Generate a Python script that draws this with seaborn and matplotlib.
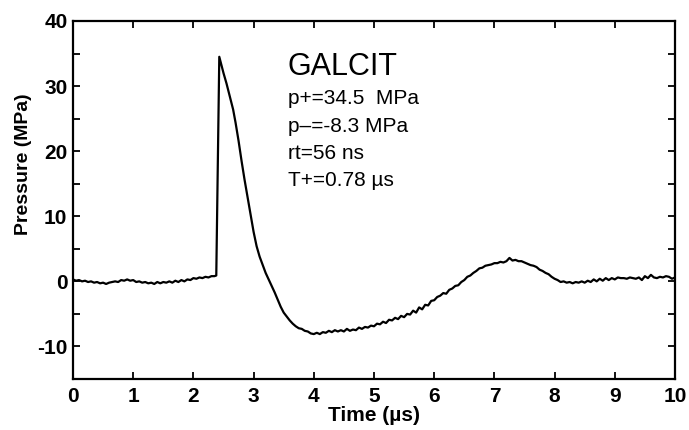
import matplotlib
matplotlib.use("Agg")
import matplotlib.pyplot as plt
import seaborn as sns
import pandas as pd
from matplotlib.ticker import MultipleLocator

# ---- data ----
time_us = [
    0.00, 0.05, 0.10, 0.15, 0.20, 0.25, 0.30, 0.35, 0.40, 0.45,
    0.50, 0.55, 0.60, 0.65, 0.70, 0.75, 0.80, 0.85, 0.90, 0.95,
    1.00, 1.05, 1.10, 1.15, 1.20, 1.25, 1.30, 1.35, 1.40, 1.45,
    1.50, 1.55, 1.60, 1.65, 1.70, 1.75, 1.80, 1.85, 1.90, 1.95,
    2.00, 2.05, 2.10, 2.15, 2.20, 2.25, 2.30, 2.35, 2.38, 2.43,
    2.50, 2.55, 2.60, 2.66, 2.70, 2.75, 2.80, 2.85, 2.90, 2.95,
    3.00, 3.05, 3.10, 3.16, 3.20, 3.25, 3.30, 3.35, 3.40, 3.45,
    3.50, 3.55, 3.60, 3.65, 3.70, 3.75, 3.80, 3.85, 3.90, 3.95,
    4.00, 4.05, 4.10, 4.15, 4.20, 4.25, 4.30, 4.35, 4.40, 4.45,
    4.50, 4.55, 4.60, 4.65, 4.70, 4.75, 4.80, 4.85, 4.90, 4.95,
    5.00, 5.05, 5.10, 5.15, 5.20, 5.25, 5.30, 5.35, 5.40, 5.45,
    5.50, 5.55, 5.60, 5.65, 5.70, 5.75, 5.80, 5.85, 5.90, 5.95,
    6.00, 6.05, 6.10, 6.15, 6.20, 6.25, 6.30, 6.35, 6.40, 6.45,
    6.50, 6.55, 6.60, 6.65, 6.70, 6.75, 6.80, 6.85, 6.90, 6.95,
    7.00, 7.05, 7.10, 7.15, 7.20, 7.25, 7.30, 7.35, 7.40, 7.45,
    7.50, 7.55, 7.60, 7.65, 7.70, 7.75, 7.80, 7.85, 7.90, 7.95,
    8.00, 8.05, 8.10, 8.15, 8.20, 8.25, 8.30, 8.35, 8.40, 8.45,
    8.50, 8.55, 8.60, 8.65, 8.70, 8.75, 8.80, 8.85, 8.90, 8.95,
    9.00, 9.05, 9.10, 9.15, 9.20, 9.25, 9.30, 9.35, 9.40, 9.45,
    9.50, 9.55, 9.60, 9.65, 9.70, 9.75, 9.80, 9.85, 9.90, 9.95,
    10.00,
]
pressure_mpa = [
    0.3, 0.1, 0.2, 0.0, 0.1, -0.1, 0.0, -0.2, -0.1, -0.3,
    -0.2, -0.4, -0.2, -0.1, 0.0, -0.1, 0.2, 0.1, 0.3, 0.1,
    0.2, -0.1, 0.0, -0.2, -0.1, -0.3, -0.2, -0.4, -0.1, -0.3,
    -0.1, -0.2, 0.0, -0.2, 0.1, -0.1, 0.2, 0.0, 0.3, 0.2,
    0.5, 0.4, 0.6, 0.5, 0.7, 0.6, 0.8, 0.8, 0.9, 34.5,
    32.0, 30.4, 28.6, 26.4, 24.4, 21.6, 18.5, 15.6, 12.9, 10.3,
    7.6, 5.4, 3.8, 2.3, 1.3, 0.3, -0.7, -1.7, -2.8, -3.9,
    -4.8, -5.4, -6.0, -6.5, -6.9, -7.2, -7.3, -7.6, -7.7, -8.0,
    -8.1, -7.9, -8.1, -7.8, -7.9, -7.6, -7.8, -7.5, -7.7, -7.5,
    -7.7, -7.3, -7.6, -7.4, -7.5, -7.1, -7.3, -7.0, -7.1, -6.8,
    -6.9, -6.5, -6.6, -6.2, -6.4, -5.9, -6.0, -5.6, -5.8, -5.3,
    -5.5, -5.0, -5.1, -4.5, -4.8, -4.0, -4.3, -3.6, -3.7, -3.0,
    -2.9, -2.4, -2.2, -1.8, -1.9, -1.3, -1.1, -0.7, -0.6, -0.1,
    0.2, 0.7, 0.9, 1.3, 1.6, 2.0, 2.1, 2.4, 2.5, 2.6,
    2.8, 2.8, 3.0, 2.9, 3.1, 3.6, 3.2, 3.3, 3.1, 3.1,
    2.9, 2.7, 2.5, 2.4, 2.2, 1.8, 1.6, 1.3, 1.1, 0.7,
    0.4, 0.2, -0.1, 0.0, -0.2, -0.1, -0.3, -0.1, -0.2, 0.0,
    -0.2, 0.1, -0.1, 0.3, 0.0, 0.4, 0.1, 0.5, 0.2, 0.5,
    0.3, 0.6, 0.5, 0.5, 0.4, 0.6, 0.5, 0.4, 0.6, 0.2,
    0.8, 0.5, 1.0, 0.6, 0.5, 0.7, 0.6, 0.8, 0.7, 0.4,
    0.6,
]
x_ticks = [0, 1, 2, 3, 4, 5, 6, 7, 8, 9, 10]
y_ticks = [-10, 0, 10, 20, 30, 40]
title_text = "GALCIT"
info_lines = ["p+=34.5  MPa", "p–=-8.3 MPa", "rt=56 ns", "T+=0.78 µs"]

df = pd.DataFrame({"t": time_us, "p": pressure_mpa})

sns.set_style("ticks")
plt.rcParams["font.family"] = ["Liberation Sans", "DejaVu Sans"]
plt.rcParams["axes.unicode_minus"] = False
plt.rcParams["text.color"] = "black"
plt.rcParams["axes.labelcolor"] = "black"
plt.rcParams["xtick.color"] = "black"
plt.rcParams["ytick.color"] = "black"

fig = plt.figure(figsize=(6.89, 4.30), dpi=100)
ax = fig.add_axes([73 / 689, 1 - 379 / 430, (675 - 73) / 689, (379 - 21) / 430])

sns.lineplot(data=df, x="t", y="p", ax=ax, color="black", linewidth=1.6,
             sort=False, estimator=None)

ax.set_xlim(0, 10)
ax.set_ylim(-15, 40)
ax.set_xticks(x_ticks)
ax.set_yticks(y_ticks)
ax.yaxis.set_minor_locator(MultipleLocator(5))
ax.tick_params(which="both", direction="in", top=True, right=True,
               width=1.3, color="black", labelcolor="black")
ax.tick_params(which="major", length=5)
ax.tick_params(which="minor", length=5)
ax.tick_params(axis="x", pad=6, labelsize=15)
ax.tick_params(axis="y", pad=4, labelsize=15)
for lbl in ax.get_xticklabels() + ax.get_yticklabels():
    lbl.set_fontweight("bold")
for sp in ax.spines.values():
    sp.set_linewidth(1.6)
    sp.set_color("black")

ax.set_xlabel("Time (µs)", fontsize=15, fontweight="bold", labelpad=0,
              color="black")
ax.set_ylabel("Pressure (MPa)", fontsize=14, fontweight="bold",
              color="black")
ax.yaxis.set_label_coords(-0.068, 0.6)

ax.text(3.57, 31.7, title_text, fontsize=22, va="baseline", ha="left",
        color="black")
for yv, line in zip([27.3, 23.0, 18.8, 14.6], info_lines):
    ax.text(3.57, yv, line, fontsize=15, va="baseline", ha="left",
            color="black")

fig.savefig("out.png", dpi=100)
